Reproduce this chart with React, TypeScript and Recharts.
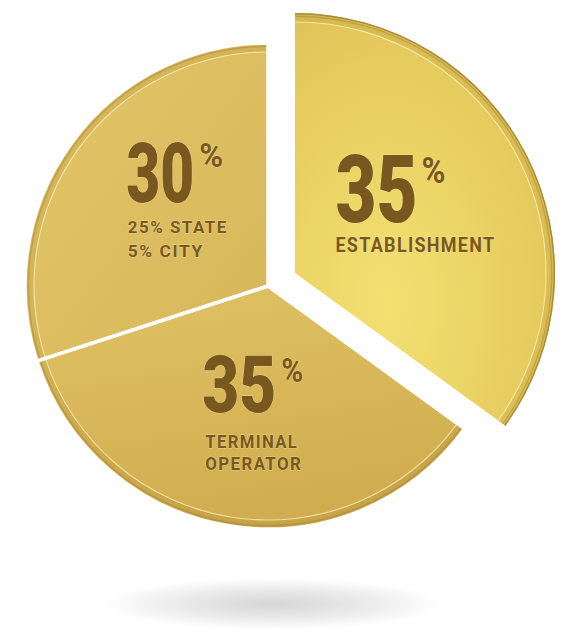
import React from "react";
import { PieChart, Pie, Cell } from "recharts";

// slices, clockwise from 12 o'clock
const SLICE_NAMES = ["Establishment", "Terminal Operator", "State and City"];
const SLICE_VALUES = [35, 35, 30];
const SLICE_SUBLABELS = [
  ["ESTABLISHMENT"],
  ["TERMINAL", "OPERATOR"],
  ["25% STATE", "5% CITY"],
];

const data = SLICE_NAMES.map((name, i) => ({ name, value: SLICE_VALUES[i] }));

const W = 578;
const H = 632;
const EXPLODED = 0;

// main disc and the popped-out slice
const MAIN = { cx: 268, cy: 286, r: 243 };
const POP = { cx: 295, cy: 273, r: 260 };

const FACE_FILLS = ["url(#gEst)", "url(#gTerm)", "url(#gState)"];
const TEXT_COLOR = "#79581f";
const FONT = "Roboto, 'DejaVu Sans', sans-serif";
const RADIAN = Math.PI / 180;

// text block layout per slice (relative to block centre)
const LABEL_LAYOUT = [
  { nx: 0, ny: -8, num: { dx: -80, dy: 18.5, size: 94, len: 82 }, pct: { dx: 4, dy: -39, size: 36, len: 24 }, sub: { dx: -80, size: 21, dys: [48.5], lens: [160] } },
  { nx: 6, ny: 3, num: { dx: -52, dy: -1.5, size: 80, len: 74 }, pct: { dx: 5, dy: -30, size: 33, len: 22 }, sub: { dx: -49, size: 18.5, dys: [34.5, 56.5], lens: [93, 97] } },
  { nx: 12.5, ny: -12, num: { dx: -52, dy: 2, size: 83, len: 68 }, pct: { dx: 5, dy: -35, size: 33, len: 24 }, sub: { dx: -50.5, size: 17, dys: [33, 57], lens: [100, 76] } },
];

const textStyle = {
  fill: TEXT_COLOR,
  fontFamily: FONT,
  stroke: "rgba(255,238,180,0.5)",
  strokeWidth: 1,
  paintOrder: "stroke" as const,
};

const makeLabel = (shown: (i: number) => boolean) => (props: any) => {
  const { cx, cy, midAngle, outerRadius, index } = props;
  if (!shown(index)) return <g />;
  const L = LABEL_LAYOUT[index];
  const r = outerRadius * 0.52;
  const bx = cx + r * Math.cos(-midAngle * RADIAN) + L.nx;
  const by = cy + r * Math.sin(-midAngle * RADIAN) + L.ny;
  return (
    <g>
      <text x={bx + L.num.dx} y={by + L.num.dy} style={{ ...textStyle, fontWeight: 900 }}>
        <tspan fontSize={L.num.size} textLength={L.num.len} lengthAdjust="spacingAndGlyphs">
          {SLICE_VALUES[index]}
        </tspan>
        <tspan
          dx={L.pct.dx}
          dy={L.pct.dy}
          fontSize={L.pct.size}
          fontWeight={700}
          textLength={L.pct.len}
          lengthAdjust="spacingAndGlyphs"
        >
          %
        </tspan>
      </text>
      {SLICE_SUBLABELS[index].map((line, k) => (
        <text
          key={k}
          x={bx + L.sub.dx}
          y={by + L.sub.dys[k]}
          fontSize={L.sub.size}
          letterSpacing={1.5}
          textLength={L.sub.lens[k]}
          lengthAdjust="spacingAndGlyphs"
          style={{ ...textStyle, fontWeight: 700 }}
        >
          {line}
        </text>
      ))}
    </g>
  );
};

// stack of pies that draws the face, bevel and rim for the given slices
function discLayers(
  key: string,
  geo: { cx: number; cy: number; r: number },
  shown: (i: number) => boolean,
  separators: boolean
) {
  const common = {
    data,
    dataKey: "value",
    cx: geo.cx,
    cy: geo.cy,
    startAngle: 90,
    endAngle: -270,
    isAnimationActive: false,
    stroke: "none",
    labelLine: false,
  };
  const layers = [
    <Pie key={key + "face"} {...common} outerRadius={geo.r} label={makeLabel(shown)}>
      {data.map((d, i) => (
        <Cell key={d.name} fill={shown(i) ? FACE_FILLS[i] : "none"} />
      ))}
    </Pie>,
    <Pie key={key + "band"} {...common} innerRadius={geo.r - 9} outerRadius={geo.r}>
      {data.map((d, i) => (
        <Cell key={d.name} fill={shown(i) ? "rgba(140,100,20,0.12)" : "none"} />
      ))}
    </Pie>,
    <Pie key={key + "hi"} {...common} innerRadius={geo.r - 9.5} outerRadius={geo.r - 8.4}>
      {data.map((d, i) => (
        <Cell key={d.name} fill={shown(i) ? "rgba(255,246,200,0.7)" : "none"} />
      ))}
    </Pie>,
    <Pie key={key + "lo"} {...common} innerRadius={geo.r - 4} outerRadius={geo.r - 2.6}>
      {data.map((d, i) => (
        <Cell key={d.name} fill={shown(i) ? "rgba(150,115,35,0.35)" : "none"} />
      ))}
    </Pie>,
    <Pie key={key + "edge"} {...common} innerRadius={geo.r - 1.4} outerRadius={geo.r}>
      {data.map((d, i) => (
        <Cell key={d.name} fill={shown(i) ? "#a88a3a" : "none"} />
      ))}
    </Pie>,
  ];
  if (separators) {
    layers.push(
      <Pie key={key + "sep"} {...common} outerRadius={geo.r} fill="none">
        {data.map((d, i) => (
          <Cell
            key={d.name}
            fill="none"
            stroke={shown(i) ? "#ffffff" : "none"}
            strokeWidth={3.5}
          />
        ))}
      </Pie>
    );
  }
  return layers;
}

export default function App() {
  return (
    <div style={{ position: "absolute", left: 0, top: 0, width: W, height: H, background: "#fff" }}>
      {/* floor shadow */}
      <div
        style={{
          position: "absolute",
          left: 100,
          top: 578,
          width: 345,
          height: 52,
          borderRadius: "50%",
          background:
            "radial-gradient(ellipse at center, rgba(0,0,0,0.16) 0%, rgba(0,0,0,0.08) 40%, rgba(0,0,0,0) 70%)",
        }}
      />
      <div style={{ position: "absolute", left: 0, top: 0 }}>
        <PieChart width={W} height={H} margin={{ top: 0, right: 0, bottom: 0, left: 0 }}>
          <defs>
            <linearGradient id="gState" x1="0" y1="0" x2="1" y2="1">
              <stop offset="0%" stopColor="#e3c769" />
              <stop offset="100%" stopColor="#d6b659" />
            </linearGradient>
            <linearGradient id="gTerm" x1="0" y1="0" x2="0.3" y2="1">
              <stop offset="0%" stopColor="#e0c264" />
              <stop offset="100%" stopColor="#d0ae50" />
            </linearGradient>
            <radialGradient id="gEst" cx="0.35" cy="0.7" r="0.8">
              <stop offset="0%" stopColor="#f3e172" />
              <stop offset="60%" stopColor="#e9cf62" />
              <stop offset="100%" stopColor="#dfc257" />
            </radialGradient>
          </defs>
          {discLayers("main", MAIN, (i) => i !== EXPLODED, true)}
          {discLayers("pop", POP, (i) => i === EXPLODED, false)}
        </PieChart>
      </div>
    </div>
  );
}
